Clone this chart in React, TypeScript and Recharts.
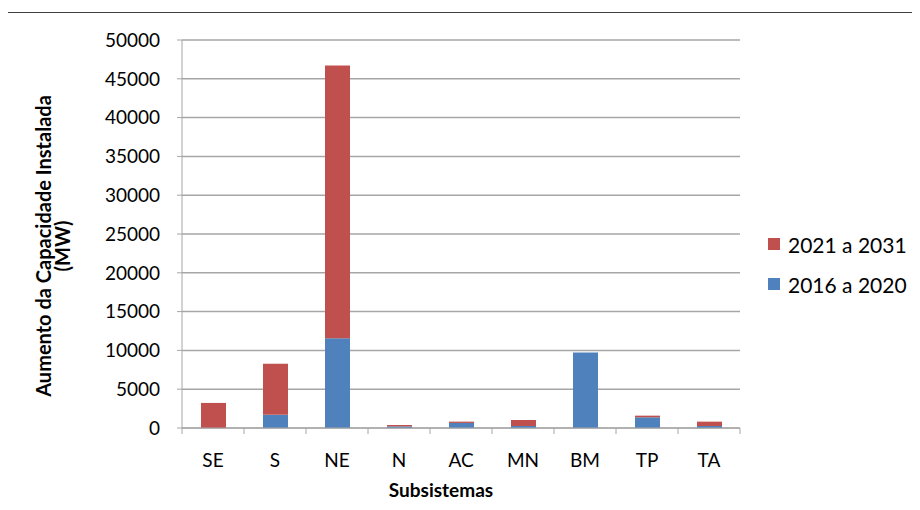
import { Bar, BarChart, CartesianGrid, Legend, XAxis, YAxis } from "recharts"

const subsistemas = ['SE', 'S', 'NE', 'N', 'AC', 'MN', 'BM', 'TP', 'TA']
const de2016a2020 = [0, 1700, 11550, 210, 650, 260, 9740, 1380, 260]
const de2021a2031 = [3230, 6580, 35150, 180, 170, 770, 0, 210, 560]
const yTicks = [0, 5000, 10000, 15000, 20000, 25000, 30000, 35000, 40000, 45000, 50000]

const RED = '#C0504D'
const BLUE = '#4F81BD'
const GRID = '#a6a6a6'
const FONT = 'Lato, "Open Sans", sans-serif'

const data = subsistemas.map((name, i) => ({
  name,
  early: de2016a2020[i],
  late: de2021a2031[i],
}))

function XTick(props: any) {
  const { x, y, payload, index } = props
  const half = payload.offset || 31
  const last = index === subsistemas.length - 1
  return (
    <g>
      <line x1={x - half} y1={y} x2={x - half} y2={y + 6} stroke={GRID} />
      {last && <line x1={x + half} y1={y} x2={x + half} y2={y + 6} stroke={GRID} />}
      <text x={x} y={y + 39} textAnchor="middle" fontSize={19} fill="#000" fontFamily={FONT}>
        {payload.value}
      </text>
    </g>
  )
}

// two line rotated title, like excel does it
function YTitle(props: any) {
  const { viewBox } = props
  const cy = viewBox.y + viewBox.height / 2 + 12
  return (
    <text
      transform={`rotate(-90, 51, ${cy})`}
      x={51}
      y={cy}
      textAnchor="middle"
      fontSize={20}
      fontWeight="bold"
      fill="#000"
      fontFamily={FONT}
    >
      <tspan x={51} dy={0}>Aumento da Capacidade Instalada</tspan>
      <tspan x={51} dy={19}>(MW)</tspan>
    </text>
  )
}

function XTitle(props: any) {
  const { viewBox } = props
  return (
    <text
      x={viewBox.x + viewBox.width / 2 - 20}
      y={viewBox.y + 69}
      textAnchor="middle"
      fontSize={19}
      fontWeight="bold"
      fill="#000"
      fontFamily={FONT}
    >
      Subsistemas
    </text>
  )
}

function LegendBox(props: any) {
  const items = [...(props.payload || [])].sort((a: any, b: any) => (a.value < b.value ? 1 : -1))
  return (
    <div style={{ fontFamily: FONT }}>
      {items.map((it: any) => (
        <div key={it.value} style={{ display: 'flex', alignItems: 'center', height: 40 }}>
          <span style={{ width: 12, height: 12, background: it.color, marginRight: 8 }} />
          <span style={{ fontSize: 21, color: '#000' }}>{it.value}</span>
        </div>
      ))}
    </div>
  )
}

export default function App() {
  return (
    <div style={{ position: 'relative', margin: -8, width: 920, height: 510, background: '#fff', overflow: 'hidden' }}>
      <div style={{ position: 'absolute', left: 0, top: 0 }}>
        <BarChart
          width={920}
          height={510}
          data={data}
          barSize={25}
          margin={{ top: 40, right: 180, bottom: 22, left: 102 }}
        >
          <CartesianGrid vertical={false} stroke={GRID} strokeWidth={1.5} />
          <XAxis
            dataKey="name"
            height={60}
            stroke={GRID}
            tickLine={false}
            tickSize={0}
            tickMargin={0}
            tick={<XTick />}
            interval={0}
            label={<XTitle />}
          />
          <YAxis
            width={80}
            domain={[0, 50000]}
            ticks={yTicks}
            interval={0}
            stroke={GRID}
            tickSize={5}
            tickMargin={17}
            tick={{ fill: '#000', fontSize: 19, fontFamily: FONT }}
            label={<YTitle />}
          />
          <Legend
            layout="vertical"
            align="center"
            verticalAlign="middle"
            content={<LegendBox />}
            wrapperStyle={{ left: 768, top: 224, width: 150 }}
          />
          <Bar dataKey="early" name="2016 a 2020" stackId="a" fill={BLUE} isAnimationActive={false} />
          <Bar dataKey="late" name="2021 a 2031" stackId="a" fill={RED} isAnimationActive={false} />
        </BarChart>
      </div>
      {/* frame of the original picture: top and left edges only */}
      <div style={{ position: 'absolute', left: 5, top: 12, width: 915, height: 1, background: '#404040' }} />
      <div style={{ position: 'absolute', left: 5, top: 12, width: 2, height: 498, background: '#404040' }} />
    </div>
  )
}
